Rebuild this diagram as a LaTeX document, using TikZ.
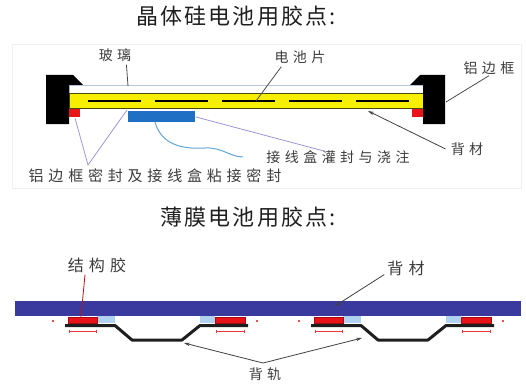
\documentclass[tikz,border=0pt]{standalone}
\usepackage{fontspec}
\newfontfamily\cjktitle[LetterSpace=10]{Noto Sans CJK SC}
\newfontfamily\cjklbl[LetterSpace=32]{Noto Sans CJK SC}
\usetikzlibrary{arrows.meta}

\definecolor{glassline}{HTML}{B8C4D8}
\definecolor{cellyellow}{HTML}{F6F000}
\definecolor{celledge}{HTML}{4A4A10}
\definecolor{sealred}{HTML}{E8141A}
\definecolor{boxblue}{HTML}{1F6FC4}
\definecolor{wireblue}{HTML}{62A6D6}
\definecolor{leadpurple}{HTML}{A393D6}
\definecolor{backblue}{HTML}{3A3A9E}
\definecolor{filmblue}{HTML}{AFD2F0}
\definecolor{railblack}{HTML}{1E1E1E}
\definecolor{labeltext}{HTML}{3C3C3C}

\tikzset{
  titletext/.style={font=\cjktitle\fontsize{22}{24}\selectfont, text=black!88, inner sep=0pt},
  lbl/.style={font=\cjklbl\fontsize{14}{16}\selectfont, text=labeltext, inner sep=1pt},
  biglbl/.style={font=\cjklbl\fontsize{16}{18}\selectfont, text=labeltext, inner sep=1pt},
  leader/.style={draw=black!70, line width=0.8pt},
  purpleleader/.style={draw=leadpurple, line width=0.8pt},
  arrowleader/.style={draw=black!75, line width=0.8pt, -{Stealth[length=6pt,width=3.5pt]}},
  framepart/.style={fill=black},
  sealpad/.style={fill=sealred},
  rail/.style={draw=railblack, line width=3pt, line join=round},
  gapmark/.style={draw=sealred!85!white, line width=0.8pt, {Bar[width=3pt]}-{Bar[width=3pt]}}
}

\begin{document}
\begin{tikzpicture}[x=1pt, y=-1pt]
\useasboundingbox (0,0) rectangle (526,385);

% ---------- crystalline silicon module ----------
\node[titletext] (title1) at (236,16) {晶体硅电池用胶点:};

% faint border around the cross-section
\draw[black!6, line width=0.6pt] (12,44) rectangle (521,188);

% glass and cell layer
\draw[glassline, fill=white, line width=0.8pt] (69,85) rectangle (423,93);
\draw[celledge, fill=cellyellow, line width=0.9pt] (69,93) rectangle (423,108);
\draw[black, line width=2.2pt, dash pattern=on 53pt off 14pt] (88,101) -- (410,101);

% aluminium frames with their lips over the glass
\fill[framepart] (46,75) -- (73,75) -- (83,85) -- (69,85) -- (69,124) -- (46,124) -- cycle;
\fill[framepart] (410,85) -- (420,75) -- (445,75) -- (445,124) -- (423,124) -- (423,85) -- cycle;

% frame sealant and junction box
\fill[sealpad] (69,109) rectangle (80,117);
\fill[sealpad] (412,109) rectangle (423,117);
\fill[boxblue] (128,111) rectangle (195,122);

% junction box cable
\draw[wireblue, line width=1pt] (155,122) .. controls (160,140) and (175,150) .. (205,148)
  .. controls (222,147) and (230,157) .. (243,157);

% reference points
\coordinate (glassPt) at (128,86);
\coordinate (cellPt) at (256,101);
\coordinate (framePt) at (446,102);
\coordinate (backPt) at (368,111);
\coordinate (boxPt) at (196,117);
\coordinate (sealPt) at (75,118);
\coordinate (edgePt) at (127,110);
\coordinate (apexTop) at (88,165);

% labels
\node[lbl] (glass) at (115,55) {玻璃};
\node[lbl] (cell) at (300,57) {电池片};
\node[lbl] (frame) at (489,68) {铝边框};
\node[lbl] (back1) at (467,149) {背材};
\node[lbl] (potting) at (338,157) {接线盒灌封与浇注};
\node[lbl, font=\cjklbl\fontsize{15}{17}\selectfont] (sealing) at (155,176) {铝边框密封及接线盒粘接密封};

\draw[leader] (glass.south east) ++(-6,2) -- (glassPt);
\draw[leader] (cell.south west) ++(8,2) -- (cellPt);
\draw[leader] (frame.south) -- (framePt);
\draw[arrowleader] (back1.west) ++(-4,0) -- (backPt);
\draw[purpleleader] (boxPt) -- ([xshift=-13pt, yshift=-2pt]potting.north);
\draw[purpleleader] (sealPt) -- (apexTop) -- (edgePt);

% ---------- thin film module ----------
\node[titletext] (title2) at (248,217) {薄膜电池用胶点:};

% back sheet
\fill[backblue] (15,301) rectangle (521,316);

% two rail units
\foreach \o in {0,246} {
  \fill[filmblue] ({97+\o},316) rectangle ({115+\o},323);
  \fill[filmblue] ({200+\o},316) rectangle ({215+\o},323);
  \draw[sealpad, draw=sealred!70!black, line width=0.5pt] ({68+\o},317) rectangle ({97+\o},323);
  \draw[sealpad, draw=sealred!70!black, line width=0.5pt] ({215+\o},317) rectangle ({245+\o},323);
  \draw[rail] ({65+\o},325.5) -- ({115+\o},325.5) -- ({132+\o},340) -- ({182+\o},340)
    -- ({200+\o},325.5) -- ({248+\o},325.5);
  \draw[gapmark] ({69+\o},331) -- ({97+\o},331);
  \draw[gapmark] ({216+\o},331) -- ({245+\o},331);
  \fill[sealred] ({53+\o},321) circle (1.2);
  \fill[sealred] ({257+\o},321) circle (1.2);
}

\coordinate (gluePt) at (81,317);
\coordinate (sheetPt) at (335,306);
\coordinate (railA) at (184,343);
\coordinate (railB) at (362,338);
\coordinate (apexBot) at (263,363);

\node[biglbl] (glue) at (97,265) {结构胶};
\node[biglbl] (back2) at (406,268) {背材};
\node[lbl] (rail) at (265,374) {背轨};

\draw[draw=sealred!80!black, line width=0.8pt] (glue.south) ++(-12,1) -- (gluePt);
\draw[arrowleader] (back2.south west) ++(-2,-2) -- (sheetPt);
\draw[arrowleader] (apexBot) -- (railA);
\draw[arrowleader] (apexBot) -- (railB);
\end{tikzpicture}
\end{document}
